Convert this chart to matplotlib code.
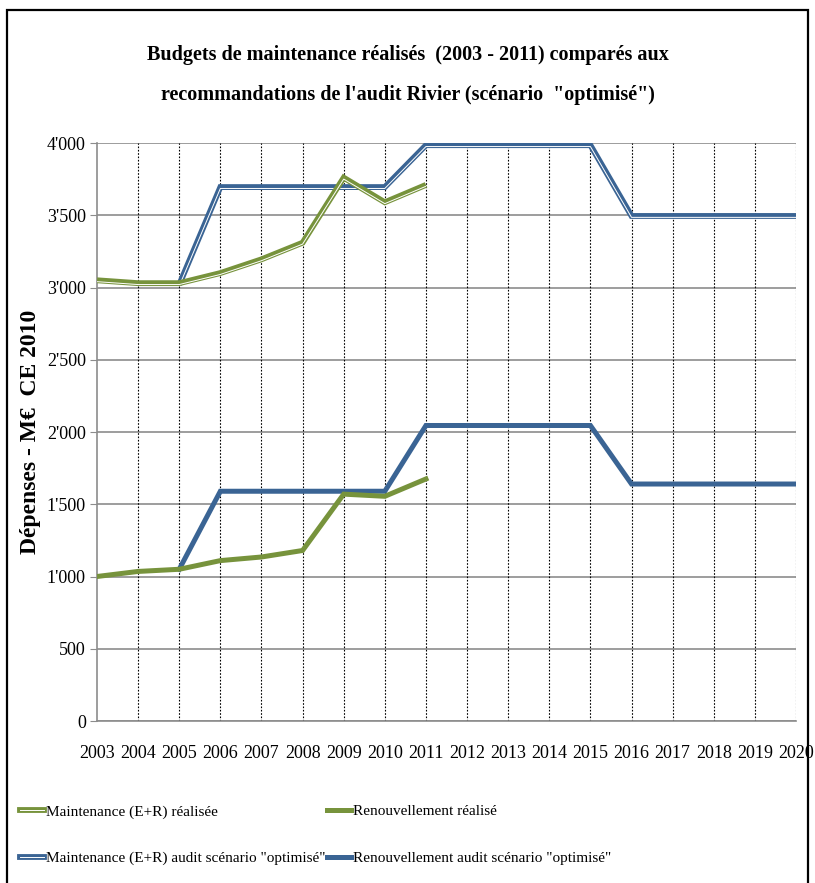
import matplotlib
matplotlib.use("Agg")
import matplotlib.pyplot as plt
from matplotlib.lines import Line2D
from matplotlib.patches import Rectangle
from matplotlib.transforms import offset_copy
from matplotlib.legend_handler import HandlerTuple
import matplotlib.ticker as mticker

years = list(range(2003, 2021))
years_real = list(range(2003, 2012))
years_audit = list(range(2005, 2021))

maint_real = [3050, 3030, 3030, 3100, 3195, 3310, 3760, 3590, 3710]
renouv_real = [1000, 1035, 1050, 1110, 1135, 1180, 1570, 1555, 1675]
maint_audit = [3020, 3695, 3695, 3695, 3695, 3695, 3985, 3985, 3985, 3985, 3985,
               3495, 3495, 3495, 3495, 3495]
renouv_audit = [1050, 1590, 1590, 1590, 1590, 1590, 2045, 2045, 2045, 2045, 2045,
                1640, 1640, 1640, 1640, 1640]

title = "Budgets de maintenance réalisés  (2003 - 2011) comparés aux\nrecommandations de l'audit Rivier (scénario  \"optimisé\")"
ylabel = "Dépenses - M€  CE 2010"
labels = ["Maintenance (E+R) réalisée", "Renouvellement réalisé",
          "Maintenance (E+R) audit scénario \"optimisé\"",
          "Renouvellement audit scénario \"optimisé\""]

green = "#77933C"
blue = "#3A6494"
serif = ["Liberation Serif", "DejaVu Serif"]

fig = plt.figure(figsize=(8.15, 8.83), dpi=100)
ax = fig.add_axes([97 / 815, 1 - 721 / 883, 699 / 815, 578 / 883])

# outer frame
fig.patches.append(Rectangle((7 / 815, -0.05), 801 / 815, 1 - 10 / 883 + 0.05,
                             transform=fig.transFigure, fill=False,
                             edgecolor="black", lw=1.6, zorder=0))

white_off = offset_copy(ax.transData, fig=fig, x=0, y=-1.0, units="points")

def double_line(x, y, color, z):
    ax.plot(x, y, color=color, lw=4.2, solid_capstyle="butt", solid_joinstyle="miter", zorder=z)
    ax.plot(x, y, color="white", lw=0.7, transform=white_off,
            solid_capstyle="butt", solid_joinstyle="miter", zorder=z + 0.1)

ax.plot(years_audit, renouv_audit, color=blue, lw=3.6, solid_joinstyle="miter", zorder=3)
double_line(years_audit, maint_audit, blue, 3.2)
ax.plot(years_real, renouv_real, color=green, lw=3.6, solid_joinstyle="miter", zorder=4)
double_line(years_real, maint_real, green, 4.2)

ax.set_xlim(2003, 2020)
ax.set_ylim(0, 4000)
ax.set_xticks(years)
ax.set_yticks(range(0, 4001, 500))
ax.yaxis.set_major_formatter(mticker.FuncFormatter(
    lambda v, p: f"{int(v):,}".replace(",", "'")))

ax.grid(axis="y", color="#8C8C8C", lw=1.2)
for yr in years[1:]:
    ax.axvline(yr, color="black", lw=0.8, ls=(0, (1.5, 1.5)), zorder=1)
ax.set_axisbelow(True)

for s in ["top", "right"]:
    ax.spines[s].set_visible(False)
ax.spines["left"].set_color("#8C8C8C")
ax.spines["bottom"].set_color("#8C8C8C")
ax.spines["left"].set_linewidth(1.2)
ax.spines["bottom"].set_linewidth(1.2)

ax.tick_params(axis="y", length=5, color="#8C8C8C", pad=3)
ax.tick_params(axis="x", length=0, pad=17)
for lab in ax.get_xticklabels() + ax.get_yticklabels():
    lab.set_fontfamily(serif)
    lab.set_fontsize(13)

ax.set_ylabel(ylabel, fontfamily=serif, fontweight="bold", fontsize=17)
ax.yaxis.set_label_coords(-0.08, 0.5)

fig.text(0.5, 1 - 75 / 883, title, ha="center", va="center", fontfamily=serif,
         fontweight="bold", fontsize=14.5, linespacing=2.3)

def dh(color):
    return (Line2D([], [], color=color, lw=4.2), Line2D([], [], color="white", lw=0.7))

handles = [dh(green), dh(blue), Line2D([], [], color=green, lw=3.6),
           Line2D([], [], color=blue, lw=3.6)]
leg_labels = [labels[0], labels[2], labels[1], labels[3]]
leg = fig.legend(handles, leg_labels, ncol=2, loc="upper left",
                 bbox_to_anchor=(6 / 815, 1 - 791 / 883),
                 handler_map={tuple: HandlerTuple(ndivide=1, pad=0)},
                 frameon=False, prop={"family": serif, "size": 11},
                 handlelength=1.6, handletextpad=0.1, columnspacing=0.1,
                 labelspacing=2.15)

fig.savefig("out.png", dpi=100)
